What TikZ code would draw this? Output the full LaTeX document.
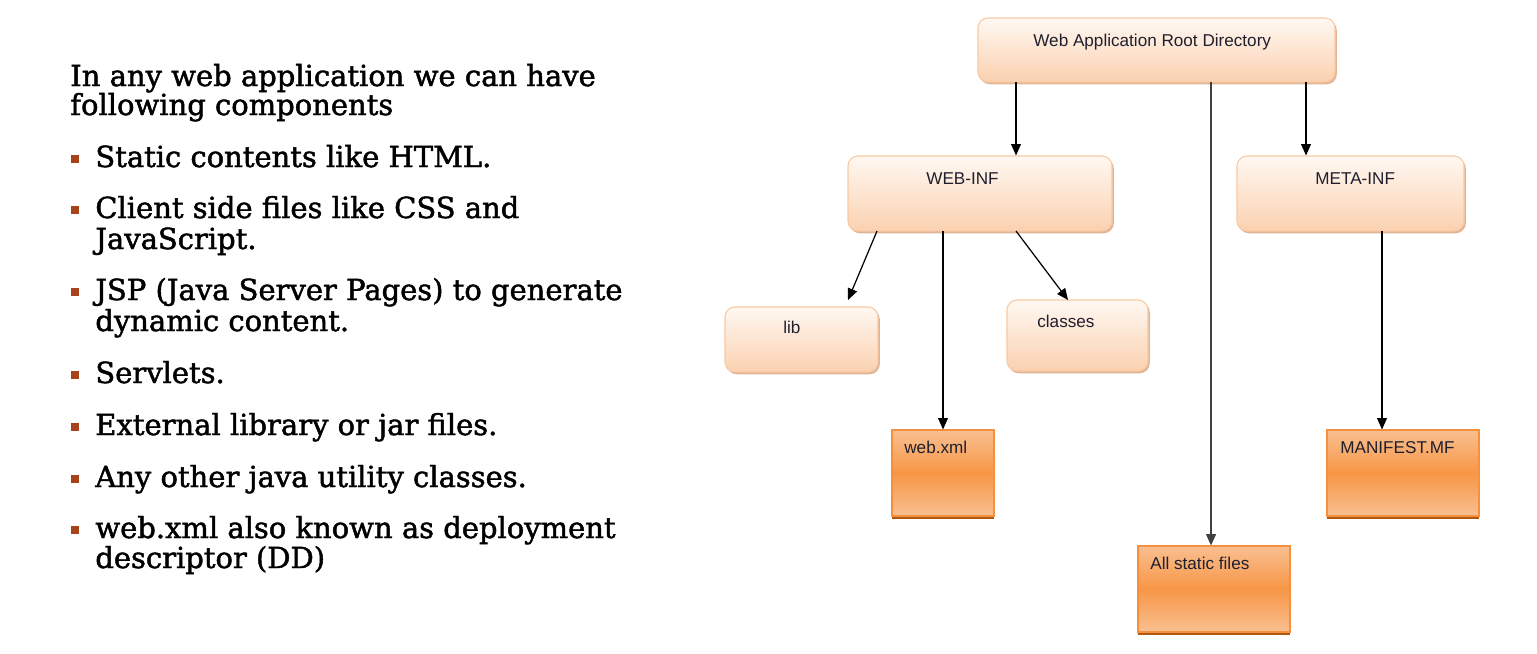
\documentclass[tikz,border=0pt]{standalone}
\usepackage{fontspec}
\setmainfont{Liberation Sans}
\newfontfamily\slab[FakeBold=1.6]{DejaVu Serif}
\usetikzlibrary{arrows.meta,shadows,calc}
\definecolor{folderTop}{HTML}{FFF8F2}
\definecolor{folderBot}{HTML}{FBD1B0}
\definecolor{folderEdge}{HTML}{F9C9A2}
\definecolor{folderShadow}{HTML}{D9A27C}
\definecolor{fileLight}{HTML}{F9BF90}
\definecolor{fileMid}{HTML}{F79646}
\definecolor{fileEdge}{HTML}{F5913E}
\definecolor{fileDark}{HTML}{AF560F}
\definecolor{bulletcol}{HTML}{A8421C}
\definecolor{boxtext}{HTML}{1F1F2E}
\tikzset{
  folderbox/.style={rectangle, rounded corners=0.2cm, draw=folderEdge, line width=0.6pt,
    top color=folderTop, bottom color=folderBot,
    drop shadow={shadow xshift=0.035cm, shadow yshift=-0.045cm, fill=folderShadow, opacity=0.8},
    inner sep=0pt},
  filebox/.style={rectangle, draw=fileEdge, line width=0.6pt,
    top color=fileLight, bottom color=fileLight, middle color=fileMid,
    drop shadow={shadow xshift=0cm, shadow yshift=-0.05cm, fill=fileDark, opacity=1},
    inner sep=0pt},
  boxlabel/.style={anchor=base west, inner sep=0pt, font=\fontsize{9.75pt}{11pt}\selectfont, text=boxtext},
  conn/.style={line width=0.7pt, draw=black, -{Triangle[length=6.5pt,width=5.6pt]}},
  slabtext/.style={anchor=base west, inner sep=0pt, font=\slab\fontsize{16.5pt}{19pt}\selectfont},
  bulletsq/.style={rectangle, fill=bulletcol, minimum size=0.16cm, inner sep=0pt},
}
\begin{document}
\begin{tikzpicture}[x=0.02cm,y=-0.02cm]
\useasboundingbox[fill=white] (0,0) rectangle (1537,653);

% ---------- left text ----------
\node[slabtext] (h1) at (70,86) {In any web application we can have};
\node[slabtext] (h2) at (70,115) {following components};

\node[bulletsq] (b1) at (75,159) {};
\node[slabtext] (t1) at (95,167) {Static contents like HTML.};
\node[bulletsq] (b2) at (75,210) {};
\node[slabtext] (t2a) at (95,218) {Client side files like CSS and};
\node[slabtext] (t2b) at (95,249) {JavaScript.};
\node[bulletsq] (b3) at (75,292) {};
\node[slabtext] (t3a) at (95,300) {JSP (Java Server Pages) to generate};
\node[slabtext] (t3b) at (95,331) {dynamic content.};
\node[bulletsq] (b4) at (75,375) {};
\node[slabtext] (t4) at (95,383) {Servlets.};
\node[bulletsq] (b5) at (75,427) {};
\node[slabtext] (t5) at (95,435) {External library or jar files.};
\node[bulletsq] (b6) at (75,479) {};
\node[slabtext] (t6) at (95,487) {Any other java utility classes.};
\node[bulletsq] (b7) at (75,530) {};
\node[slabtext] (t7a) at (95,538) {web.xml also known as deployment};
\node[slabtext] (t7b) at (95,568) {descriptor (DD)};

% ---------- boxes ----------
\node[folderbox, minimum width=357*0.02cm, minimum height=64*0.02cm] (root) at (1156.5,50) {};
\node[folderbox, minimum width=264*0.02cm, minimum height=75*0.02cm] (webinf) at (980,193.5) {};
\node[folderbox, minimum width=227*0.02cm, minimum height=75*0.02cm] (metainf) at (1350.5,193.5) {};
\node[folderbox, minimum width=153*0.02cm, minimum height=65*0.02cm] (lib) at (801.5,339.5) {};
\node[folderbox, minimum width=141*0.02cm, minimum height=71*0.02cm] (classes) at (1077.5,335.5) {};
\node[filebox, minimum width=102*0.02cm, minimum height=86*0.02cm] (webxml) at (943,473) {};
\node[filebox, minimum width=152*0.02cm, minimum height=86*0.02cm] (manifest) at (1403,473) {};
\node[filebox, minimum width=152*0.02cm, minimum height=86*0.02cm] (static) at (1214,589) {};

\node[boxlabel] (rootL) at (1033,46) {Web Application Root Directory};
\node[boxlabel] (webinfL) at (926,184) {WEB-INF};
\node[boxlabel] (metainfL) at (1315,184) {META-INF};
\node[boxlabel] (libL) at (783,333) {lib};
\node[boxlabel] (classesL) at (1037,327) {classes};
\node[boxlabel] (webxmlL) at (904,453) {web.xml};
\node[boxlabel] (manifestL) at (1340,453) {MANIFEST.MF};
\node[boxlabel] (staticL) at (1150,569) {All static files};

% ---------- connectors ----------
\coordinate (r1) at (1016,82);
\coordinate (r2) at (1211,82);
\coordinate (r3) at (1306,82);
\coordinate (w1) at (877,231);
\coordinate (w2) at (943,231);
\coordinate (w3) at (1016,231);
\coordinate (m1) at (1382,231);
\coordinate (libT) at (848,300);
\coordinate (clsT) at (1068,300);

\draw[conn] (r1) -- (r1 |- webinf.north);
\draw[conn, draw=black!75, line width=1pt] (r2) -- (r2 |- static.north);
\draw[conn] (r3) -- (r3 |- metainf.north);
\draw[conn] (w1) -- (libT);
\draw[conn] (w2) -- (w2 |- webxml.north);
\draw[conn] (w3) -- (clsT);
\draw[conn] (m1) -- (m1 |- manifest.north);
\end{tikzpicture}
\end{document}
